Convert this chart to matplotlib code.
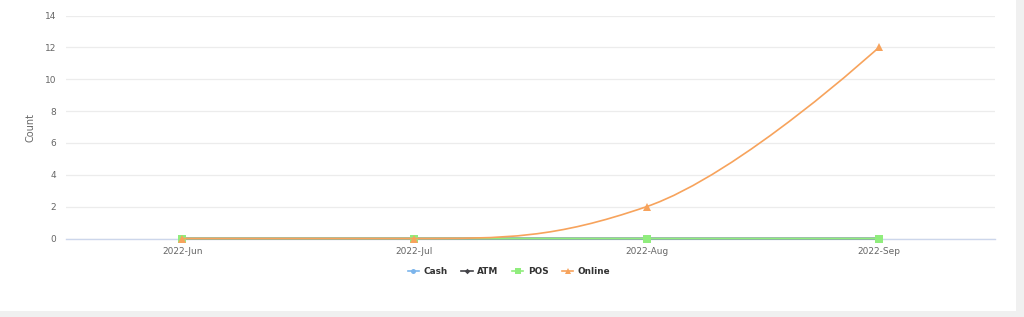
import numpy as np
import matplotlib
matplotlib.use("Agg")
import matplotlib.pyplot as plt
from matplotlib.path import Path
from matplotlib.patches import PathPatch, Rectangle
from matplotlib.lines import Line2D

categories = ["2022-Jun", "2022-Jul", "2022-Aug", "2022-Sep"]
cash = [0, 0, 0, 0]
atm = [0, 0, 0, 0]
pos = [0, 0, 0, 0]
online = [0, 0, 2, 12]
y_ticks = [0, 2, 4, 6, 8, 10, 12, 14]

series = [
    ("Cash", cash, "#7cb5ec", "o"),
    ("ATM", atm, "#434348", "D"),
    ("POS", pos, "#90ed7d", "s"),
    ("Online", online, "#f7a35c", "^"),
]
marker_sizes = {"o": 4.5, "D": 3.5, "s": 6, "^": 5.5}


def spline_path(xs, ys):
    """Highcharts-style spline control points."""
    n = len(xs)
    sm, den = 1.5, 2.5
    lc = [None] * n
    rc = [None] * n
    for i in range(1, n - 1):
        lx, ly = xs[i - 1], ys[i - 1]
        px, py = xs[i], ys[i]
        nx, ny = xs[i + 1], ys[i + 1]
        lcx = (sm * px + lx) / den
        lcy = (sm * py + ly) / den
        rcx = (sm * px + nx) / den
        rcy = (sm * py + ny) / den
        corr = 0
        if rcx != lcx:
            corr = (rcy - lcy) * (rcx - px) / (rcx - lcx) + py - rcy
        lcy += corr
        rcy += corr
        if lcy > ly and lcy > py:
            lcy = max(ly, py); rcy = 2 * py - lcy
        elif lcy < ly and lcy < py:
            lcy = min(ly, py); rcy = 2 * py - lcy
        if rcy > ny and rcy > py:
            rcy = max(ny, py); lcy = 2 * py - rcy
        elif rcy < ny and rcy < py:
            rcy = min(ny, py); lcy = 2 * py - rcy
        lc[i] = (lcx, lcy)
        rc[i] = (rcx, rcy)
    verts = [(xs[0], ys[0])]
    codes = [Path.MOVETO]
    for i in range(1, n):
        c1 = rc[i - 1] if rc[i - 1] is not None else (xs[i - 1], ys[i - 1])
        c2 = lc[i] if lc[i] is not None else (xs[i], ys[i])
        verts += [c1, c2, (xs[i], ys[i])]
        codes += [Path.CURVE4] * 3
    return Path(verts, codes)


fig = plt.figure(figsize=(10.24, 3.17), dpi=100)
fig.patch.set_facecolor("#f0f0f0")
bg = fig.add_axes([0, 0.019, 0.992, 0.981], zorder=-10)
bg.set_axis_off()
bg.add_patch(Rectangle((0, 0), 1, 1, transform=bg.transAxes, facecolor="white",
                       edgecolor="none"))

ax = fig.add_axes([66 / 1024, 1 - 238.5 / 317, (995 - 66) / 1024, (238.5 - 15.5) / 317])
ax.set_facecolor("none")
x = np.arange(len(categories))
ax.set_xlim(-0.5, len(categories) - 0.5)
ax.set_ylim(0, 14)
ax.set_yticks(y_ticks)
ax.set_xticks(x)
ax.set_xticklabels(categories)
ax.tick_params(axis="both", length=0, labelsize=6.5, colors="#666666")
ax.tick_params(axis="x", pad=6)
ax.tick_params(axis="y", pad=7)
ax.grid(axis="y", color="#ececec", linewidth=0.9)
ax.set_axisbelow(True)
for s in ["top", "right", "left"]:
    ax.spines[s].set_visible(False)
ax.spines["bottom"].set_color("#ccd6eb")
ax.spines["bottom"].set_linewidth(1)
ax.set_ylabel("Count", fontsize=7, color="#666666", labelpad=7)

handles = []
for i, (name, vals, color, mk) in enumerate(series):
    p = spline_path(list(x.astype(float)), [float(v) for v in vals])
    ax.add_patch(PathPatch(p, facecolor="none", edgecolor=color, linewidth=1.2,
                           zorder=3 + i, clip_on=False))
    ms = marker_sizes[mk]
    ax.plot(x, vals, linestyle="none", marker=mk, markersize=ms, color=color,
            markeredgewidth=0, zorder=3.5 + i, clip_on=False)
    handles.append(Line2D([0], [0], color=color, linewidth=1.2, marker=mk,
                          markersize=ms * 0.8, markeredgewidth=0, label=name))

leg = fig.legend(handles=handles, loc="center", bbox_to_anchor=(509 / 1024, 1 - 272 / 317),
                 ncol=4, frameon=False, handlelength=1.3, handletextpad=0.5,
                 columnspacing=1.5, prop={"weight": "bold", "size": 6.4})
for t in leg.get_texts():
    t.set_color("#333333")

fig.savefig("out.png", dpi=100, facecolor=fig.get_facecolor())
